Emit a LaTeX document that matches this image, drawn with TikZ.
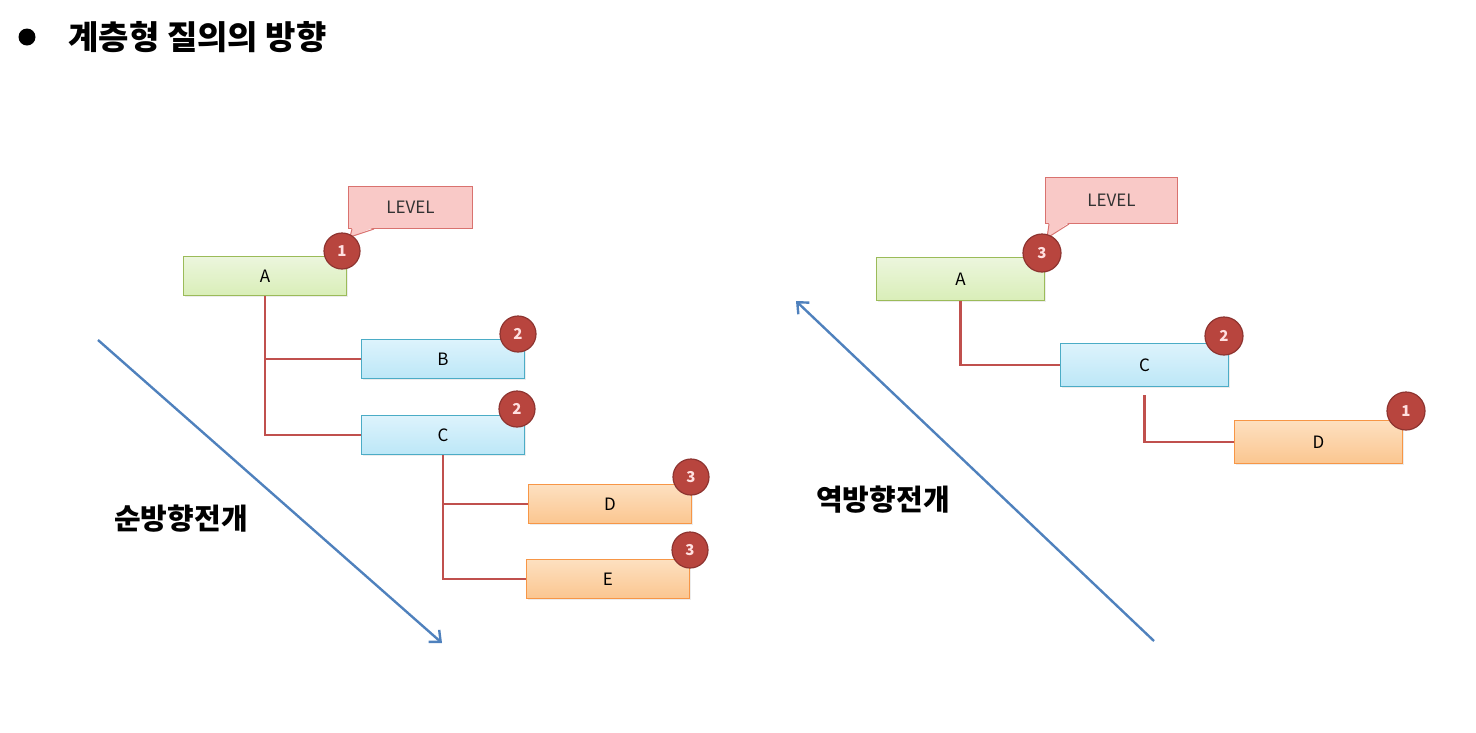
\documentclass[tikz,border=0pt]{standalone}
\usepackage{fontspec}
\setmainfont{Noto Sans CJK KR}
\usetikzlibrary{arrows.meta, calc, shadows}
\definecolor{lvgreen}{HTML}{9BBB59}
\definecolor{lvblue}{HTML}{4BACC6}
\definecolor{lvorange}{HTML}{F79646}
\definecolor{greentop}{HTML}{ECF6DD}
\definecolor{greenbot}{HTML}{D9EEB8}
\definecolor{bluetop}{HTML}{DDF3FC}
\definecolor{bluebot}{HTML}{BCE7F7}
\definecolor{orangetop}{HTML}{FDE0C0}
\definecolor{orangebot}{HTML}{FBC690}
\definecolor{lvpink}{HTML}{F9C9C7}
\definecolor{lvpinkline}{HTML}{D9726F}
\definecolor{badge}{HTML}{B8453E}
\definecolor{badgeline}{HTML}{8E3430}
\definecolor{link}{HTML}{C0504D}
\definecolor{flow}{HTML}{4F81BD}

\begin{document}
\begin{tikzpicture}[x=1pt, y=-1pt,
    box/.style={draw, line width=1pt, anchor=north west, inner sep=0pt,
      minimum width=163pt, minimum height=39pt, font=\fontsize{17}{20}\selectfont,
      drop shadow={shadow xshift=1.5pt, shadow yshift=-1.5pt, fill=black!15}},
    bigbox/.style={box, minimum width=168pt, minimum height=43pt},
    lvA/.style={draw=lvgreen, top color=greentop, bottom color=greenbot},
    lvB/.style={draw=lvblue, top color=bluetop, bottom color=bluebot},
    lvC/.style={draw=lvorange, top color=orangetop, bottom color=orangebot},
    callout/.style={draw=lvpinkline, fill=lvpink, line width=1pt, anchor=north west,
      inner sep=0pt, font=\fontsize{17}{20}\selectfont, text=black!80},
    badgecirc/.style={circle, draw=badgeline, fill=badge, line width=1.2pt, minimum size=36pt,
      inner sep=0pt, text=red!12!white, font=\fontsize{15}{17}\selectfont\bfseries},
    tree/.style={draw=link, line width=2.2pt},
    dirarrow/.style={draw=flow, line width=2.4pt, -{Straight Barb[length=9pt, width=16pt]}},
    dirlabel/.style={font=\fontsize{29}{34}\selectfont\bfseries}]

  \useasboundingbox (0,0) rectangle (1476,732);

  % title
  \node[circle, fill=black, minimum size=17pt, inner sep=0pt] (bullet) at (27,37) {};
  \node[anchor=west, font=\fontsize{33}{39}\selectfont\bfseries] (title) at (65,37) {계층형 질의의 방향};

  % ---- forward (left) ----
  \node[callout, minimum width=124pt, minimum height=42pt] (lv1) at (348,186) {LEVEL};
  \coordinate (lv1tip) at (350,237);
  \fill[lvpink] ($(lv1.south west)+(4,-1.5)$) -- (lv1tip) -- ($(lv1.south west)+(26,-1.5)$) -- cycle;
  \draw[lvpinkline, line width=1pt] ($(lv1.south west)+(4,0)$) -- (lv1tip) -- ($(lv1.south west)+(26,0)$);

  \node[box, lvA] (fa) at (183,256) {A};
  \node[box, lvB] (fb) at (361,339) {B};
  \node[box, lvB] (fc) at (361,415) {C};
  \node[box, lvC] (fd) at (528,484) {D};
  \node[box, lvC] (fe) at (526,559) {E};

  \draw[tree] (fa.south) |- (fb.west);
  \draw[tree] (fa.south) |- (fc.west);
  \draw[tree] (fc.south) |- (fd.west);
  \draw[tree] (fc.south) |- (fe.west);

  \node[badgecirc] (fa1) at (342,251) {1};
  \node[badgecirc] (fb2) at (518,334) {2};
  \node[badgecirc] (fc2) at (517,409) {2};
  \node[badgecirc] (fd3) at (691,477) {3};
  \node[badgecirc] (fe3) at (690,550) {3};

  \coordinate (fstart) at (98,340);
  \coordinate (fend) at (442,643);
  \draw[dirarrow] (fstart) -- (fend);
  \node[dirlabel] (flabel) at (181,519) {순방향전개};

  % ---- reverse (right) ----
  \node[callout, minimum width=132pt, minimum height=46pt] (lv2) at (1045,177) {LEVEL};
  \coordinate (lv2tip) at (1047,238);
  \fill[lvpink] ($(lv2.south west)+(4,-1.5)$) -- (lv2tip) -- ($(lv2.south west)+(24,-1.5)$) -- cycle;
  \draw[lvpinkline, line width=1pt] ($(lv2.south west)+(4,0)$) -- (lv2tip) -- ($(lv2.south west)+(24,0)$);

  \node[bigbox, lvA] (ra) at (876,257) {A};
  \node[bigbox, lvB] (rc) at (1060,343) {C};
  \node[bigbox, lvC] (rd) at (1234,420) {D};

  \draw[tree] (ra.south) |- (rc.west);
  \draw[tree] ([yshift=-8pt]rc.south) |- (rd.west);

  \node[badgecirc, minimum size=38pt] (ra3) at (1042,253) {3};
  \node[badgecirc, minimum size=38pt] (rc2) at (1224,336) {2};
  \node[badgecirc, minimum size=38pt] (rd1) at (1406,411) {1};

  \coordinate (rstart) at (1154,641);
  \coordinate (rend) at (796,301);
  \draw[dirarrow] (rstart) -- (rend);
  \node[dirlabel] (rlabel) at (883,500) {역방향전개};
\end{tikzpicture}
\end{document}
